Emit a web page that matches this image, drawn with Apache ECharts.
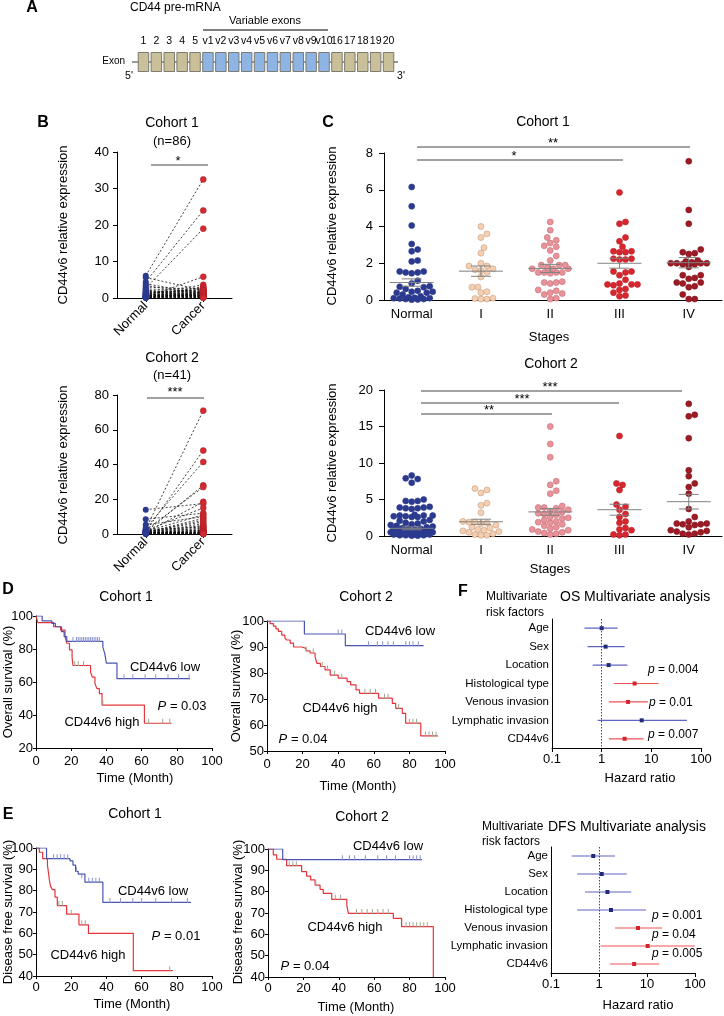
<!DOCTYPE html>
<html>
<head>
<meta charset="utf-8">
<script src="https://cdn.jsdelivr.net/npm/echarts@6.0.0/dist/echarts.min.js"></script>
<style>
  html, body { margin: 0; padding: 0; background: #fff; }
  #fig { width: 724px; height: 1016px; }
</style>
</head>
<body>
<div id="fig"></div>
<script>
// ---- data ----

// A: exon map
const exonLabels = ['1', '2', '3', '4', '5', 'v1', 'v2', 'v3', 'v4', 'v5', 'v6', 'v7', 'v8', 'v9', 'v10', '16', '17', '18', '19', '20'];

// B: paired normal / cancer values (same index = same patient)
const pairGroups = ['Normal', 'Cancer'];
const b1Normal = [6.1, 4.4, 2.7, 5.6, 0.3, 3.9, 1.2, 3.4, 0.5, 3.0, 1.0, 2.5, 0.2, 2.2, 1.5, 2.0, 0.8, 1.9, 0.1, 1.7, 0.6, 1.4, 0.4, 1.3, 0.9, 1.1, 0.2, 0.7, 0.3, 0.8, 0.1, 0.6, 0.4, 0.5, 0.2, 0.3, 0.1, 0.2, 0.05, 0.1];
const b1Cancer = [32.5, 24.0, 19.0, 2.1, 5.8, 1.2, 3.6, 0.9, 3.1, 2.4, 2.8, 1.8, 2.6, 0.6, 2.2, 1.5, 1.9, 0.4, 1.7, 0.8, 1.4, 2.0, 1.1, 0.3, 1.6, 0.5, 1.3, 0.7, 1.0, 0.2, 0.9, 1.2, 0.6, 0.4, 0.8, 0.1, 0.5, 0.3, 0.2, 0.1];
const b2Normal = [2.8, 1.5, 3.5, 1.2, 2.2, 0.9, 14.0, 2.0, 8.5, 1.6, 5.3, 1.0, 0.8, 1.3, 0.7, 1.1, 0.6, 2.5, 0.5, 1.8, 0.4, 0.9, 0.3, 1.4, 0.3, 0.7, 1.2, 0.2, 0.6, 1.0, 0.5, 0.2, 0.8, 0.4, 0.1, 0.3, 0.6, 0.1, 0.2, 0.4, 0.1];
const b2Cancer = [71, 48, 41.5, 28, 27, 18.5, 17.5, 15, 12, 11, 10, 9, 8, 7, 6, 5, 4.5, 4, 3.5, 3, 2.5, 2.2, 2, 1.8, 1.5, 1.3, 1.1, 1, 0.9, 0.8, 0.7, 0.6, 0.5, 0.4, 0.3, 0.3, 0.2, 0.2, 0.1, 0.1, 0.05];

// C: expression by stage
const stageNames = ['Normal', 'I', 'II', 'III', 'IV'];
const c1Normal = [6.15, 5.1, 4.05, 3.05, 2.75, 2.65, 2.1, 2.15, 1.55, 1.55, 1.5, 1.45, 1.5, 1.05, 0.9, 0.75, 0.72, 0.7, 0.6, 0.5, 0.45, 0.45, 0.4, 0.4, 0.3, 0.2, 0.15, 0.12, 0.1, 0.1, 0.08, 0.05, 0.05, 0.03, 0.02];
const c1StageI = [4.0, 3.6, 3.4, 2.85, 2.55, 2.0, 1.85, 1.85, 1.7, 1.65, 1.6, 1.5, 1.25, 0.7, 0.7, 0.45, 0.4, 0.05, 0.05, 0.08, 0.1];
const c1StageII = [4.25, 3.8, 3.4, 3.25, 3.1, 2.95, 2.9, 2.7, 2.4, 2.15, 1.9, 1.9, 1.9, 1.75, 1.7, 1.7, 1.7, 1.5, 1.5, 1.5, 1.45, 1.5, 0.95, 0.95, 1.0, 0.9, 0.55, 0.5, 0.35, 0.3, 0.4, 0.05, 0.1];
const c1StageIII = [5.85, 4.25, 4.15, 3.4, 3.2, 2.9, 2.65, 2.6, 2.6, 2.65, 2.25, 2.2, 2.2, 2.25, 1.55, 1.5, 1.55, 1.35, 1.1, 0.9, 0.85, 0.85, 0.8, 0.85, 0.6, 0.55, 0.4, 0.2, 0.25];
const c1StageIV = [7.55, 4.9, 4.15, 2.75, 2.6, 2.55, 2.5, 2.15, 2.1, 2.05, 2.0, 2.0, 2.0, 2.0, 1.95, 1.95, 2.0, 1.8, 1.35, 1.35, 1.2, 1.15, 0.95, 0.9, 0.95, 0.75, 0.7, 0.3, 0.05, 0.05];
const c1Mean = [0.95, 1.57, 1.72, 2.0, 2.03];
const c1Sem = [0.2, 0.28, 0.22, 0.27, 0.28];

const c2Normal = [8.3, 7.9, 7.8, 7.3, 5.0, 4.8, 4.8, 4.7, 4.0, 3.9, 3.9, 3.8, 3.8, 3.7, 2.9, 2.8, 2.8, 2.8, 2.7, 2.7, 2.6, 2.6, 2.2, 2.1, 2.0, 1.8, 1.7, 1.6, 1.5, 1.4, 1.3, 1.2, 1.1, 1.0, 1.0, 0.9, 0.9, 0.8, 0.8, 0.7, 0.7, 0.6, 0.6, 0.5, 0.5, 0.4, 0.4, 0.3, 0.3, 0.3, 0.2, 0.2, 0.2, 0.1, 0.1, 0.1, 0.05, 0.05];
const c2StageI = [6.5, 6.3, 5.9, 4.5, 4.2, 3.2, 2.0, 1.9, 1.9, 1.7, 1.8, 1.5, 1.2, 1.1, 0.9, 0.8, 0.7, 0.6, 0.5, 0.3, 0.2, 0.1, 0.1];
const c2StageII = [15.0, 12.6, 10.8, 7.5, 7.0, 6.2, 5.8, 4.1, 3.9, 3.9, 3.8, 3.6, 3.4, 3.3, 3.1, 3.0, 2.9, 2.6, 2.5, 2.4, 2.2, 2.0, 1.9, 1.8, 1.6, 1.4, 1.2, 1.0, 0.9, 0.8, 0.6, 0.5, 0.4, 0.3, 0.2];
const c2StageIII = [13.7, 7.2, 7.0, 6.3, 4.3, 4.0, 3.6, 3.0, 2.6, 2.0, 1.8, 1.1, 0.9, 0.8, 0.2, 0.2, 0.1];
const c2StageIV = [18.1, 16.6, 16.4, 13.4, 9.0, 8.2, 7.2, 6.7, 5.8, 3.7, 2.6, 2.0, 1.7, 1.7, 1.6, 1.6, 1.5, 1.2, 0.8, 0.7, 0.6, 0.5, 0.3, 0.3, 0.2];
const c2Mean = [1.05, 1.95, 3.3, 3.6, 4.7];
const c2Sem = [0.2, 0.35, 0.45, 0.75, 1.0];

// D: overall survival, [month, %]
const d1Low = [[0, 100], [3.5, 97], [9, 95.5], [11, 93.5], [14.5, 90.5], [16, 87.5], [17.5, 84.6], [38, 81], [39, 77.5], [40, 71.5], [46, 62], [87.5, 62]];
const d1High = [[0, 100], [1, 96], [10, 93.5], [14, 91.5], [16.5, 87.5], [17.5, 83.5], [19, 79.5], [20.5, 75], [21, 70], [31, 66], [32, 63], [33.5, 59], [34.6, 56], [36, 53], [37.5, 46], [61.6, 35], [77, 35]];
const d1LowCensor = [[21, 84.6], [23, 84.6], [24, 84.6], [25, 84.6], [26, 84.6], [27, 84.6], [28, 84.6], [29, 84.6], [30, 84.6], [31, 84.6], [32, 84.6], [33, 84.6], [34, 84.6], [35, 84.6], [36, 84.6], [50, 62], [55, 62], [62, 62], [68, 62], [75, 62], [81, 62], [87, 62]];
const d1HighCensor = [[22, 70], [24, 70], [27, 70], [38, 46], [64, 35], [72, 35], [76, 35]];

const d2Low = [[0, 100], [21, 95], [44, 90.5], [88, 90.5]];
const d2High = [[0, 100], [1.7, 99], [3.6, 98], [5, 97], [6.4, 96], [8.3, 94.6], [10, 93.5], [11.1, 92.7], [13, 91.5], [14.9, 90], [19.5, 89.5], [22, 88.5], [24.2, 87.7], [27, 86.3], [28, 83.7], [30, 82.5], [32.6, 81.2], [35.5, 79.2], [40, 78], [45, 76.7], [47, 75.4], [50, 73.5], [52, 72.2], [62.7, 70.3], [70.4, 68.3], [72.3, 66.4], [76, 64.5], [77.9, 60.7], [86.4, 55.8], [96, 55.8]];
const d2LowCensor = [[40, 95], [42, 95], [57, 90.5], [62, 90.5], [65, 90.5], [68, 90.5], [71, 90.5], [78, 90.5], [80, 90.5], [82, 90.5], [85, 90.5]];
const d2HighCensor = [[22, 88.5], [26, 87.7], [31, 82.5], [34, 81.2], [38, 79.2], [42, 78], [55, 72.2], [58, 72.2], [61, 72.2], [66, 70.3], [68, 70.3], [74, 66.4], [80, 60.7], [82, 60.7], [84, 60.7], [89, 55.8], [91, 55.8], [93, 55.8], [95, 55.8]];

// E: disease free survival, [month, %]
const e1Low = [[0, 100], [6, 95], [19.3, 94], [21, 92], [22.5, 89], [24, 87.8], [27.8, 84], [38, 74.5], [88, 74.5]];
const e1High = [[0, 100], [1.9, 98], [3.8, 95], [6.5, 92], [7, 89], [7.6, 85], [8.3, 82], [9.3, 80.5], [10.8, 77], [12.1, 73], [17.4, 69], [24.4, 64], [29.8, 60], [55.3, 42.5], [77.7, 42.5]];
const e1LowCensor = [[10, 95], [12, 95], [14, 95], [16, 95], [18, 95], [23, 89], [26, 86], [30, 84], [32, 84], [34, 84], [36, 84], [42, 74.5], [48, 74.5], [55, 74.5], [60, 74.5], [68, 74.5], [77, 74.5], [86, 74.5]];
const e1HighCensor = [[13, 73], [15, 73], [20, 69], [26, 64], [28, 64], [76, 42.5]];

const e2Low = [[0, 100], [8.3, 95], [87, 95]];
const e2High = [[0, 100], [3, 97.2], [4.9, 95.2], [10.5, 92.2], [19, 89.4], [21.8, 87.3], [24.1, 85.5], [26.6, 83.1], [29.4, 81.1], [31.2, 79.2], [36, 76.4], [44.5, 73.7], [45.4, 69.8], [70.8, 67.5], [75.5, 63.6], [93.4, 40]];
const e2LowCensor = [[42, 95], [46, 95], [49, 95], [55, 95], [62, 95], [67, 95], [72, 95], [80, 95], [82, 95], [84, 95], [86, 95]];
const e2HighCensor = [[12, 92.2], [14, 92.2], [16, 92.2], [27, 83.1], [38, 76.4], [41, 76.4], [50, 69.8], [53, 69.8], [56, 69.8], [59, 69.8], [62, 69.8], [65, 69.8], [68, 69.8], [78, 63.6], [80, 63.6], [82, 63.6], [84, 63.6], [86, 63.6], [88, 63.6], [90, 63.6]];

// F: multivariate hazard ratios
const riskFactors = ['Age', 'Sex', 'Location', 'Histological type', 'Venous invasion', 'Lymphatic invasion', 'CD44v6'];
const osHR = [1.0, 1.2, 1.38, 4.6, 3.4, 6.4, 2.9];
const osLow = [0.45, 0.52, 0.66, 1.75, 1.4, 0.83, 1.4];
const osHigh = [2.1, 2.9, 3.3, 14, 8.5, 52, 7];
const osSignificant = [0, 0, 0, 1, 1, 0, 1];
const dfsHR = [0.76, 1.14, 1.5, 1.78, 6.5, 10.3, 5.4];
const dfsLow = [0.27, 0.35, 0.51, 0.35, 2.16, 1.08, 1.7];
const dfsHigh = [2.16, 3.8, 4.7, 9.5, 20.6, 99, 18];
const dfsSignificant = [0, 0, 0, 0, 1, 1, 1];

// ---- styling ----
const FONT = '"Liberation Sans", Arial, Helvetica, sans-serif';
const NARROW = '"Liberation Sans Narrow", "Liberation Sans", Arial, sans-serif';
const NAVY = '#2b3a8f';
const RED = '#d42a30';
const KM_BLUE = '#4b55b0';
const KM_RED = '#e5353b';
const stageFill = ['#2b3a8f', '#f4cfb1', '#e8939a', '#d8262f', '#9d1b25'];
const stageBorder = ['#2b3a8f', '#c79d80', '#c46e77', '#b81d25', '#7d121b'];

const chart = echarts.init(document.getElementById('fig'), null, { renderer: 'canvas' });

// beeswarm placement (deterministic): shift a dot sideways until it no longer overlaps,
// never further than `cap` px from the centre; past that, take the least crowded slot
function swarm(values, center, pxX, pxY, d, cap) {
  const placed = [];
  return values.slice().sort((a, b) => a - b).map(v => {
    const py = v * pxY;
    let best = 0, bestGap = -1;
    for (let i = 0; i < 400; i++) {
      const off = (i % 2 ? 1 : -1) * Math.ceil(i / 2) * d * 0.5;
      if (Math.abs(off) > cap) break;
      const gap = placed.reduce((m, p) => Math.min(m, Math.hypot(p[0] - off, p[1] - py)), Infinity);
      if (gap >= d * 0.95) { best = off; break; }
      if (gap > bestGap) { best = off; bestGap = gap; }
    }
    placed.push([best, py]);
    return [center + best / pxX, v];
  });
}

function axisStyle(o) {
  return Object.assign({
    axisLine: { show: true, onZero: false, lineStyle: { color: '#000', width: 1 } },
    splitLine: { show: false }
  }, o);
}
function ticks(len) {
  return { show: true, length: len, lineStyle: { color: '#000', width: 1 } };
}
function labels(margin, extra) {
  return Object.assign({ color: '#000', fontSize: 13, fontFamily: FONT, margin: margin }, extra || {});
}

const grids = [
  { left: 137, top: 52, width: 258, height: 20 },   // A
  { left: 117, top: 152, width: 115, height: 146 }, // B1
  { left: 117, top: 395, width: 115, height: 139 }, // B2
  { left: 384, top: 153, width: 338, height: 147 }, // C1
  { left: 384, top: 390, width: 338, height: 146 }, // C2
  { left: 36, top: 616, width: 176, height: 132 },  // D1
  { left: 267, top: 621, width: 178, height: 130 }, // D2
  { left: 36, top: 848, width: 176, height: 128 },  // E1
  { left: 268, top: 849, width: 177, height: 128 }, // E2
  { left: 552, top: 619, width: 149, height: 129 }, // F OS
  { left: 551, top: 847, width: 144, height: 126 }  // F DFS
].map(g => Object.assign(g, { containLabel: false, outerBoundsMode: 'none' }));

const xAxes = [
  { gridIndex: 0, type: 'category', position: 'top', data: exonLabels,
    axisLine: { show: false }, axisTick: { show: false }, splitLine: { show: false },
    axisLabel: labels(5, { fontSize: 10.5, fontFamily: NARROW, interval: 0 }) }
];
[1, 2].forEach(g => xAxes.push(axisStyle({
  gridIndex: g, type: 'value', min: -0.5, max: 1.5,
  axisTick: Object.assign(ticks(4), { customValues: [0, 1] }),
  axisLabel: labels(6, { customValues: [0, 1], rotate: 45, formatter: v => pairGroups[Math.round(v)] })
})));
[3, 4].forEach(g => xAxes.push(axisStyle({
  gridIndex: g, type: 'value', min: -0.4, max: 4.48,
  axisTick: { show: false },
  axisLabel: labels(8, { customValues: [0, 1, 2, 3, 4], formatter: v => stageNames[Math.round(v)] })
})));
[5, 6, 7, 8].forEach(g => xAxes.push(axisStyle({
  gridIndex: g, type: 'value', min: 0, max: 100, interval: 20,
  axisTick: ticks(3), axisLabel: labels(g >= 7 ? 5 : 7)
})));
[9, 10].forEach(g => xAxes.push(axisStyle({
  gridIndex: g, type: 'log', logBase: 10, min: 0.1, max: 100,
  axisTick: ticks(4), axisLabel: labels(5)
})));

const yAxes = [
  { gridIndex: 0, type: 'value', min: 0, max: 1, show: false },
  axisStyle({ gridIndex: 1, type: 'value', min: 0, max: 40, interval: 10, axisTick: ticks(4), axisLabel: labels(8) }),
  axisStyle({ gridIndex: 2, type: 'value', min: 0, max: 80, interval: 20, axisTick: ticks(4), axisLabel: labels(8) }),
  axisStyle({ gridIndex: 3, type: 'value', min: 0, max: 8, interval: 2, axisTick: ticks(5), axisLabel: labels(11) }),
  axisStyle({ gridIndex: 4, type: 'value', min: 0, max: 20, interval: 5, axisTick: ticks(5), axisLabel: labels(11) }),
  axisStyle({ gridIndex: 5, type: 'value', min: 20, max: 100, interval: 20, axisTick: ticks(3), axisLabel: labels(3) }),
  axisStyle({ gridIndex: 6, type: 'value', min: 50, max: 100, interval: 10, axisTick: ticks(3), axisLabel: labels(3) }),
  axisStyle({ gridIndex: 7, type: 'value', min: 40, max: 100, interval: 10, axisTick: ticks(3), axisLabel: labels(3) }),
  axisStyle({ gridIndex: 8, type: 'value', min: 40, max: 100, interval: 10, axisTick: ticks(3), axisLabel: labels(3) }),
  axisStyle({ gridIndex: 9, type: 'category', data: riskFactors, inverse: true, axisTick: { show: false }, axisLabel: labels(3, { fontSize: 11.5 }) }),
  axisStyle({ gridIndex: 10, type: 'category', data: riskFactors, inverse: true, axisTick: { show: false }, axisLabel: labels(3, { fontSize: 11.5 }) })
];

const series = [];

// A: exon boxes
series.push({
  type: 'bar', xAxisIndex: 0, yAxisIndex: 0, barCategoryGap: '11%', z: 2,
  data: exonLabels.map(l => ({
    value: 1,
    itemStyle: { color: l[0] === 'v' ? '#8db4e2' : '#c9bf98', borderColor: '#7d7b72', borderWidth: 1 }
  }))
});

// B: paired plots
function pairedSeries(axis, normal, cancer) {
  series.push({
    type: 'lines', coordinateSystem: 'cartesian2d', xAxisIndex: axis, yAxisIndex: axis, z: 2,
    lineStyle: { color: '#111', width: 0.8, type: [2, 2], opacity: 1 },
    data: normal.map((v, i) => ({ coords: [[0, v], [1, cancer[i]]] }))
  });
  series.push({
    type: 'scatter', xAxisIndex: axis, yAxisIndex: axis, z: 3, symbolSize: 6,
    itemStyle: { color: NAVY, opacity: 1 }, data: normal.map(v => [0, v])
  });
  series.push({
    type: 'scatter', xAxisIndex: axis, yAxisIndex: axis, z: 3, symbolSize: 6,
    itemStyle: { color: RED, borderColor: '#a81e24', borderWidth: 0.5, opacity: 1 }, data: cancer.map(v => [1, v])
  });
}
pairedSeries(1, b1Normal, b1Cancer);
pairedSeries(2, b2Normal, b2Cancer);

// C: stage scatter with mean +/- SEM
function stageSeries(axis, groups, mean, sem, yMax, plotH) {
  const pxX = 338 / 4.88, pxY = plotH / yMax;
  groups.forEach((vals, k) => series.push({
    type: 'scatter', xAxisIndex: axis, yAxisIndex: axis, z: 3, symbolSize: 6,
    itemStyle: { color: stageFill[k], borderColor: stageBorder[k], borderWidth: 0.6, opacity: 1 },
    data: swarm(vals, k, pxX, pxY, 6, 21)
  }));
  series.push({
    type: 'custom', xAxisIndex: axis, yAxisIndex: axis, z: 5,
    encode: { x: 0, y: 1 },
    data: mean.map((m, k) => [k, m, sem[k]]),
    renderItem: (params, api) => {
      const x = api.value(0), m = api.value(1), s = api.value(2);
      const c = api.coord([x, m]), t = api.coord([x, m + s]), b = api.coord([x, m - s]);
      const st = { stroke: '#808080', lineWidth: 1 };
      return { type: 'group', children: [
        { type: 'line', shape: { x1: c[0] - 22, y1: c[1], x2: c[0] + 22, y2: c[1] }, style: st },
        { type: 'line', shape: { x1: t[0], y1: t[1], x2: b[0], y2: b[1] }, style: st },
        { type: 'line', shape: { x1: t[0] - 10, y1: t[1], x2: t[0] + 10, y2: t[1] }, style: st },
        { type: 'line', shape: { x1: b[0] - 10, y1: b[1], x2: b[0] + 10, y2: b[1] }, style: st }
      ] };
    }
  });
}
stageSeries(3, [c1Normal, c1StageI, c1StageII, c1StageIII, c1StageIV], c1Mean, c1Sem, 8, 147);
stageSeries(4, [c2Normal, c2StageI, c2StageII, c2StageIII, c2StageIV], c2Mean, c2Sem, 20, 146);

// D, E: Kaplan-Meier curves
function kmSeries(axis, low, high, lowCens, highCens) {
  [[high, KM_RED], [low, KM_BLUE]].forEach(([d, col]) => series.push({
    type: 'line', step: 'end', xAxisIndex: axis, yAxisIndex: axis, z: 3,
    symbol: 'none', showSymbol: false, data: d,
    lineStyle: { color: col, width: 1.2 }
  }));
  [[lowCens, '#8a93cc'], [highCens, '#9aaa94']].forEach(([d, col]) => series.push({
    type: 'scatter', xAxisIndex: axis, yAxisIndex: axis, z: 4,
    symbol: 'rect', symbolSize: [1, 5], symbolOffset: [0, -2],
    itemStyle: { color: col, opacity: 1 }, data: d
  }));
}
kmSeries(5, d1Low, d1High, d1LowCensor, d1HighCensor);
kmSeries(6, d2Low, d2High, d2LowCensor, d2HighCensor);
kmSeries(7, e1Low, e1High, e1LowCensor, e1HighCensor);
kmSeries(8, e2Low, e2High, e2LowCensor, e2HighCensor);

// F: forest plots
function forestSeries(axis, hr, lo, hi, sig) {
  series.push({
    type: 'custom', xAxisIndex: axis, yAxisIndex: axis, z: 3,
    encode: { x: [1, 2], y: 0 },
    data: hr.map((v, i) => [i, lo[i], hi[i], sig[i]]),
    renderItem: (params, api) => {
      const row = api.value(0);
      const a = api.coord([api.value(1), row]), b = api.coord([api.value(2), row]);
      return { type: 'line', shape: { x1: a[0], y1: a[1], x2: b[0], y2: b[1] },
        style: { stroke: api.value(3) ? '#ee5257' : '#5c63c2', lineWidth: 1.2 } };
    }
  });
  series.push({
    type: 'scatter', xAxisIndex: axis, yAxisIndex: axis, z: 4,
    symbol: 'rect', symbolSize: 4,
    data: hr.map((v, i) => ({ value: [v, i], itemStyle: { color: sig[i] ? '#d3232b' : '#202a78', opacity: 1 } })),
    markLine: {
      silent: true, symbol: ['none', 'none'], label: { show: false },
      lineStyle: { type: [1.5, 1.5], color: '#3a40a6', width: 1 },
      data: [{ xAxis: 1 }]
    }
  });
}
forestSeries(9, osHR, osLow, osHigh, osSignificant);
forestSeries(10, dfsHR, dfsLow, dfsHigh, dfsSignificant);

// ---- text and annotation marks ----
function T(text, x, y, o) {
  o = o || {};
  const size = o.size || 13, family = o.family || FONT;
  const style = {
    text: text, fill: '#000', fontSize: size, fontFamily: family,
    fontWeight: o.bold ? 'bold' : 'normal',
    textAlign: o.align || 'center', textVerticalAlign: 'middle',
    align: o.align || 'center', verticalAlign: 'middle'
  };
  if (o.italicFirst) style.rich = { i: { fontStyle: 'italic', fontSize: size, fontFamily: family, fill: '#000' } };
  return { type: 'text', x: x, y: y, rotation: o.rot || 0, z: 10, style: style };
}
function L(x1, y1, x2, y2, col, w) {
  return { type: 'line', z: 0, shape: { x1, y1, x2, y2 }, style: { stroke: col || '#444', lineWidth: w || 1 } };
}
const UP = Math.PI / 2;

const elements = [
  // A
  T('A', 32, 8, { bold: true, size: 16 }),
  T('CD44 pre-mRNA', 130, 8, { align: 'left', size: 12, family: NARROW }),
  T('Variable exons', 265, 21, { size: 11, family: NARROW }),
  L(203, 30, 328, 30, '#555', 1.5),
  L(132, 62, 398, 62, '#333', 1),
  T('Exon', 125, 61, { align: 'right', size: 10, family: NARROW }),
  T("5'", 129, 76, { size: 10.5, family: NARROW }),
  T("3'", 401, 76, { size: 10.5, family: NARROW }),

  // B
  T('B', 43, 123, { bold: true, size: 16 }),
  T('Cohort 1', 172, 123, { size: 14 }),
  T('(n=86)', 172, 141),
  T('*', 178, 161),
  L(151, 165, 208, 165),
  T('CD44v6 relative expression', 63, 225, { rot: UP }),
  T('Cohort 2', 172, 358, { size: 14 }),
  T('(n=41)', 172, 375),
  T('***', 175, 392),
  L(147, 398, 204, 398),
  T('CD44v6 relative expression', 63, 465, { rot: UP }),

  // C
  T('C', 328, 123, { bold: true, size: 16 }),
  T('Cohort 1', 543, 122, { size: 14 }),
  T('**', 553, 143),
  L(417, 147, 690, 147),
  T('*', 514, 156),
  L(417, 160, 623, 160),
  T('CD44v6 relative expression', 332, 226, { rot: UP }),
  T('Stages', 549, 337),
  T('Cohort 2', 551, 364, { size: 14 }),
  T('***', 550, 387),
  L(421, 391, 682, 391),
  T('***', 522, 399),
  L(421, 403, 619, 403),
  T('**', 489, 410),
  L(421, 414, 552, 414),
  T('CD44v6 relative expression', 332, 463, { rot: UP }),
  T('Stages', 550, 569),

  // D
  T('D', 8, 590, { bold: true, size: 16 }),
  T('Cohort 1', 126, 597, { size: 14 }),
  T('Overall survival (%)', 8, 682, { rot: UP }),
  T('Time (Month)', 135, 778),
  T('CD44v6 low', 165, 667),
  T('{i|P} = 0.03', 182, 706, { italicFirst: true }),
  T('CD44v6 high', 102, 722),
  T('Cohort 2', 366, 597, { size: 14 }),
  T('Overall survival (%)', 236, 686, { rot: UP }),
  T('Time (Month)', 358, 786),
  T('CD44v6 low', 400, 631),
  T('CD44v6 high', 340, 708),
  T('{i|P} = 0.04', 303, 739, { italicFirst: true }),

  // E
  T('E', 8, 815, { bold: true, size: 16 }),
  T('Cohort 1', 135, 814, { size: 14 }),
  T('Disease free survival (%)', 8, 912, { rot: UP }),
  T('Time (Month)', 132, 1004),
  T('CD44v6 low', 153, 891),
  T('{i|P} = 0.01', 176, 936, { italicFirst: true }),
  T('CD44v6 high', 88, 955),
  T('Cohort 2', 362, 817, { size: 14 }),
  T('Disease free survival (%)', 238, 912, { rot: UP }),
  T('Time (Month)', 356, 1007),
  T('CD44v6 low', 388, 846),
  T('CD44v6 high', 345, 927),
  T('{i|P} = 0.04', 305, 966, { italicFirst: true }),

  // F
  T('F', 463, 592, { bold: true, size: 16 }),
  T('Multivariate', 486, 597, { align: 'left', size: 12 }),
  T('risk factors', 486, 613, { align: 'left', size: 12 }),
  T('OS Multivariate analysis', 560, 597, { align: 'left', size: 14 }),
  T('Hazard ratio', 640, 778),
  T('{i|p} = 0.004', 648, 670, { align: 'left', size: 12, italicFirst: true }),
  T('{i|p} = 0.01', 649, 703, { align: 'left', size: 12, italicFirst: true }),
  T('{i|p} = 0.007', 648, 735, { align: 'left', size: 12, italicFirst: true }),
  T('Multivariate', 482, 827, { align: 'left', size: 12 }),
  T('risk factors', 482, 842, { align: 'left', size: 12 }),
  T('DFS Multivariate analysis', 548, 827, { align: 'left', size: 14 }),
  T('Hazard ratio', 638, 1005),
  T('{i|p} = 0.001', 652, 916, { align: 'left', size: 12, italicFirst: true }),
  T('{i|p} = 0.04', 652, 935, { align: 'left', size: 12, italicFirst: true }),
  T('{i|p} = 0.005', 652, 954, { align: 'left', size: 12, italicFirst: true })
];

chart.setOption({
  animation: false,
  backgroundColor: '#fff',
  textStyle: { fontFamily: FONT },
  grid: grids,
  xAxis: xAxes,
  yAxis: yAxes,
  series: series,
  graphic: { elements: elements }
});
</script>
</body>
</html>
